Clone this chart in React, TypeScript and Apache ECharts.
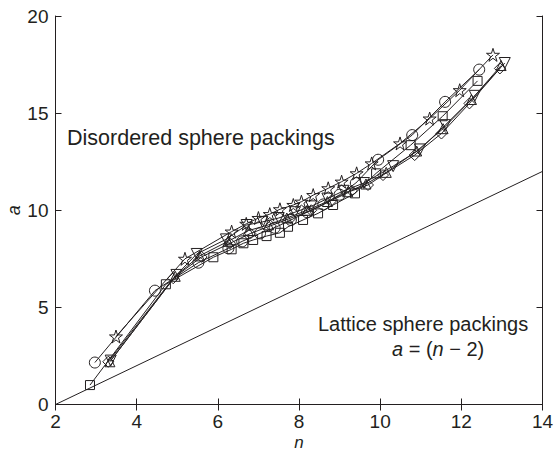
import React, { useEffect, useRef } from "react";
import * as echarts from "echarts";

const xTicks = [2, 4, 6, 8, 10, 12, 14];
const yTicks = [0, 5, 10, 15, 20];

const circleSeries: number[][] = [
  [2.97, 2.16], [4.45, 5.86], [5.52, 7.3], [6.26, 8.04], [6.6, 8.4], [7.04, 8.81],
  [7.4, 9.1], [7.8, 9.5], [8.2, 9.9], [8.6, 10.3], [9.0, 10.8], [9.4, 11.4],
  [9.95, 12.6], [10.79, 13.87], [11.6, 15.58], [12.44, 17.24],
];
const starSeries: number[][] = [
  [3.49, 3.5], [5.19, 7.5], [6.34, 8.9], [6.7, 9.3], [7.0, 9.6], [7.28, 9.8],
  [7.53, 10.05], [7.86, 10.27], [8.06, 10.44], [8.35, 10.78], [8.72, 11.13],
  [9.05, 11.47], [9.42, 11.9], [9.79, 12.41], [10.49, 13.44], [11.22, 14.72],
  [11.96, 16.18], [12.78, 18.0],
];
const squareSeries: number[][] = [
  [2.85, 1.0], [4.72, 6.19], [5.89, 7.58], [6.34, 7.99], [6.63, 8.3], [6.87, 8.47],
  [7.2, 8.67], [7.53, 8.84], [7.73, 9.15], [8.1, 9.5], [8.47, 9.84], [8.84, 10.27],
  [9.38, 10.87], [9.9, 11.9], [10.75, 13.35], [11.54, 14.84], [12.4, 16.66],
];
const triDownSeries: number[][] = [
  [3.36, 2.26], [4.98, 6.67], [5.48, 7.75], [6.2, 8.5], [6.71, 9.24], [7.1, 9.4],
  [7.5, 9.6], [7.9, 9.9], [8.3, 10.2], [8.7, 10.6], [9.1, 11.0], [9.6, 11.4],
  [10.32, 12.27], [10.98, 13.13], [11.6, 14.38], [12.33, 15.89], [13.07, 17.58],
];
const triUpSeries: number[][] = [
  [3.34, 2.2], [4.95, 6.6], [5.55, 7.65], [6.25, 8.4], [6.75, 8.95], [7.25, 9.25],
  [7.7, 9.6], [8.2, 10.0], [8.7, 10.45], [9.2, 10.95], [9.65, 11.35], [10.15, 11.95],
  [10.9, 13.05], [11.55, 14.2], [12.25, 15.7], [12.98, 17.45],
];
const diamondSeries: number[][] = [
  [3.3, 2.2], [4.9, 6.5], [5.6, 7.6], [6.3, 8.3], [6.8, 8.8], [7.3, 9.2],
  [7.8, 9.6], [8.3, 10.0], [8.8, 10.5], [9.3, 11.0], [9.7, 11.3], [10.07, 11.81],
  [10.85, 12.84], [11.51, 13.95], [12.2, 15.5], [12.95, 17.3],
];
const latticeLine: number[][] = [
  [2, 0], [14, 12],
];

const INK = "#231f20";
const STAR =
  "path://M50,0 L61.2,34.5 L97.6,34.5 L68.2,55.9 L79.4,90.5 L50,69.1 L20.6,90.5 L31.8,55.9 L2.4,34.5 L38.8,34.5 Z";
const TRI_DOWN = "path://M0,0 L100,0 L50,86.6 Z";

function markerSeries(data: number[][], symbol: string, size: number) {
  return {
    type: "line",
    data,
    symbol,
    symbolSize: size,
    showSymbol: true,
    lineStyle: { color: INK, width: 1 },
    itemStyle: { color: "rgba(255,255,255,0)", borderColor: INK, borderWidth: 1 },
    emphasis: { disabled: true },
    z: 3,
  };
}

export default function App() {
  const ref = useRef<HTMLDivElement>(null);
  useEffect(() => {
    if (!ref.current) return;
    const chart = echarts.init(ref.current, undefined, { renderer: "svg" });
    const font = "Liberation Sans, Arial, sans-serif";
    const axisCommon = {
      axisLine: { show: true, lineStyle: { color: INK, width: 1 } },
      axisTick: { show: true, inside: true, length: 6, lineStyle: { color: INK } },
      splitLine: { show: false },
    };
    chart.setOption({
      animation: false,
      backgroundColor: "#fff",
      grid: {
        left: 55.5, right: 12.5, top: 16, bottom: 50.5,
        containLabel: false, outerBoundsMode: "none",
      },
      xAxis: [
        {
          type: "value", min: xTicks[0], max: xTicks[xTicks.length - 1], interval: 2,
          position: "bottom",
          ...axisCommon,
          axisLabel: { color: INK, fontSize: 19, fontFamily: font, margin: 7 },
          name: "n", nameLocation: "middle", nameGap: 29, nameMoveOverlap: false,
          nameTextStyle: { color: INK, fontSize: 17, fontStyle: "italic", fontFamily: font },
        },
        {
          type: "value", min: xTicks[0], max: xTicks[xTicks.length - 1], interval: 2,
          position: "top",
          ...axisCommon,
          axisLabel: { show: false },
        },
      ],
      yAxis: [
        {
          type: "value", min: yTicks[0], max: yTicks[yTicks.length - 1], interval: 5,
          position: "left",
          ...axisCommon,
          axisLabel: { color: INK, fontSize: 19, fontFamily: font, margin: 7 },
          name: "a", nameLocation: "middle", nameGap: 33, nameMoveOverlap: false,
          nameTextStyle: { color: INK, fontSize: 18, fontStyle: "italic", fontFamily: font },
        },
        {
          type: "value", min: yTicks[0], max: yTicks[yTicks.length - 1], interval: 5,
          position: "right",
          ...axisCommon,
          axisLabel: { show: false },
        },
      ],
      series: [
        {
          type: "line",
          data: latticeLine,
          symbol: "none",
          lineStyle: { color: INK, width: 1 },
          emphasis: { disabled: true },
          z: 2,
        },
        markerSeries(circleSeries, "circle", 11),
        markerSeries(starSeries, STAR, 13),
        markerSeries(squareSeries, "rect", 9),
        markerSeries(triDownSeries, TRI_DOWN, 11),
        markerSeries(triUpSeries, "triangle", 10),
        markerSeries(diamondSeries, "diamond", 11),
      ],
      graphic: [
        {
          type: "text", left: 67, top: 127,
          style: { text: "Disordered sphere packings", fill: INK, fontSize: 21.5, fontFamily: font },
        },
        {
          type: "text", left: 318, top: 314,
          style: { text: "Lattice sphere packings", fill: INK, fontSize: 20, fontFamily: font },
        },
        {
          type: "text", left: 392, top: 339,
          style: {
            text: "{i|a} = ({i|n} − 2)",
            fill: INK, fontSize: 20, fontFamily: font,
            rich: { i: { fontStyle: "italic", fontSize: 20, fontFamily: font, fill: INK } },
          },
        },
      ],
    });
    return () => chart.dispose();
  }, []);
  return (
    <div
      ref={ref}
      style={{ position: "absolute", left: 0, top: 0, width: 555, height: 455 }}
    />
  );
}
